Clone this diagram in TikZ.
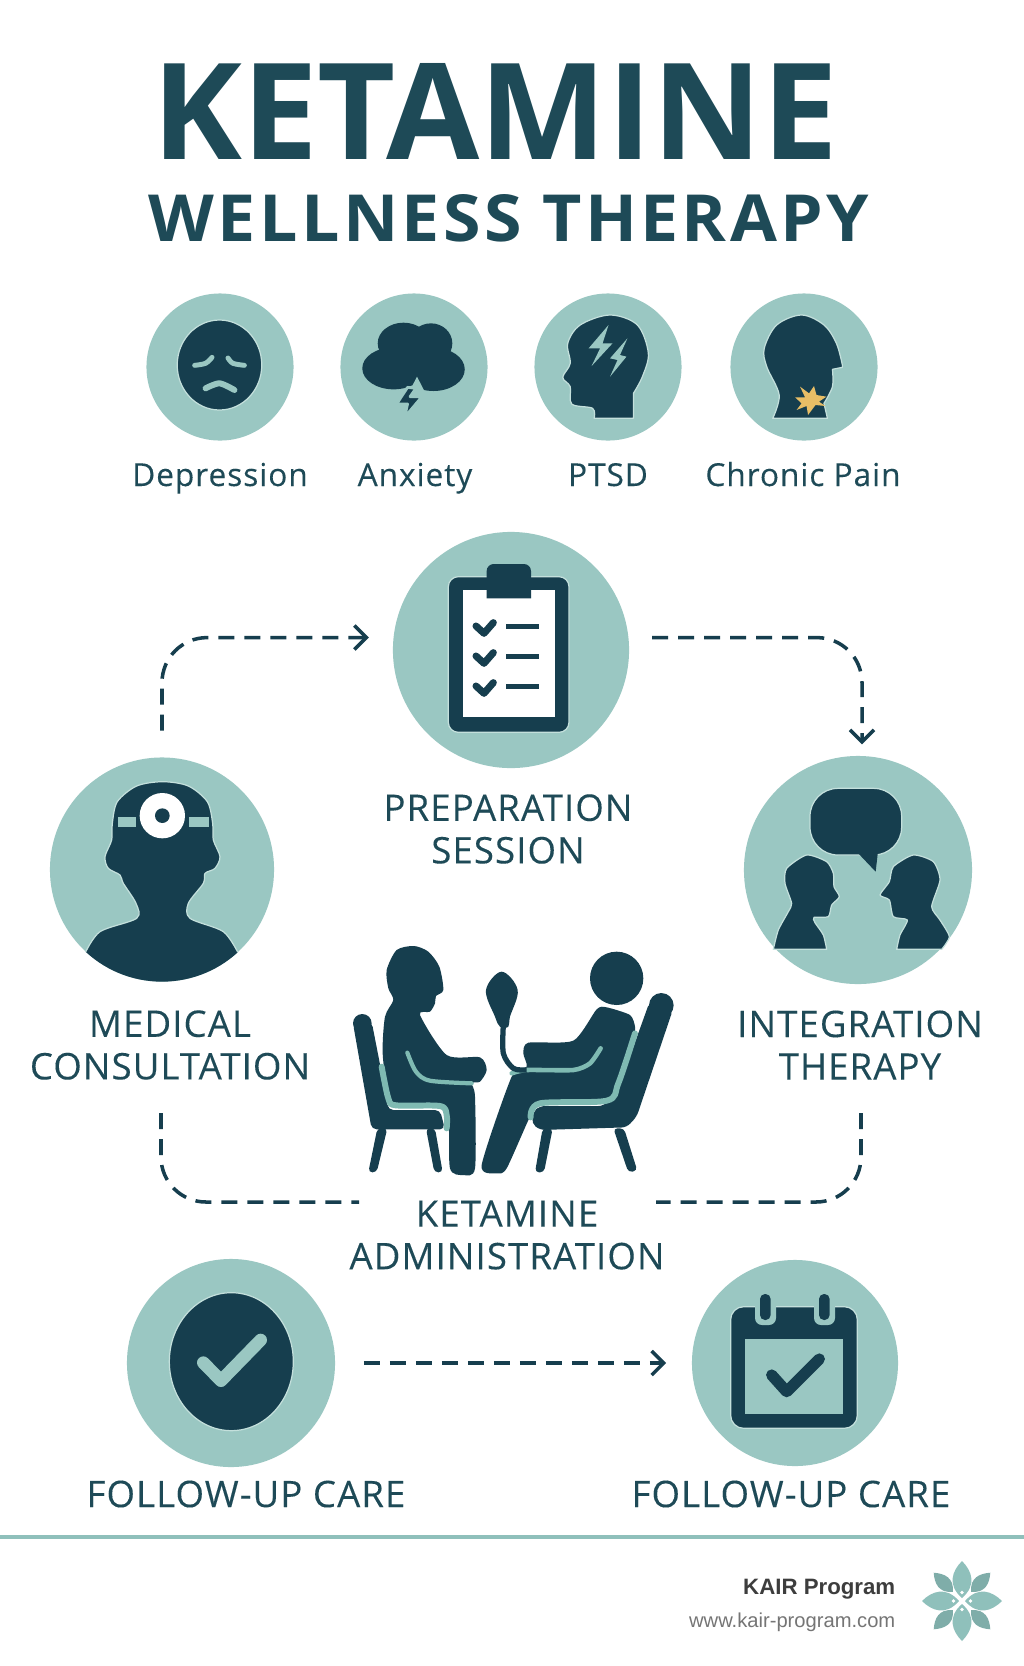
\documentclass[tikz,border=0pt]{standalone}
\usepackage{fontspec}
\usepackage{graphicx}
\setmainfont{Open Sans}
\newfontfamily\labelfont[LetterSpace=3,FakeBold=.15]{Open Sans}
\newfontfamily\sidefont{Liberation Sans}
\usetikzlibrary{arrows.meta}
\definecolor{inkdark}{HTML}{163E4E}
\definecolor{inktext}{HTML}{1E4A57}
\definecolor{discteal}{HTML}{9AC7C2}
\definecolor{haloteal}{HTML}{C4E0DC}
\definecolor{lineteal}{HTML}{7FBAB2}
\definecolor{ruleteal}{HTML}{8FC0BB}
\definecolor{leafdark}{HTML}{7FADA9}
\definecolor{sparkgold}{HTML}{E8BE66}
\tikzset{
  disc/.style={circle,fill=discteal,inner sep=0pt},
  icon/.style={fill=inkdark,draw=haloteal,line width=.35pt},
  lightstroke/.style={draw=discteal,line cap=round,line join=round},
  seam/.style={draw=lineteal,line cap=round,line join=round},
  steplabel/.style={text=inktext,align=center,inner sep=0pt,font=\labelfont\fontsize{10.4}{12.1}\selectfont},
  condlabel/.style={text=inktext,inner sep=0pt,anchor=base,font=\labelfont\fontsize{9}{11}\selectfont},
  flowplain/.style={draw=inkdark,line width=1pt,dash pattern=on 1.6mm off 1mm,rounded corners=.45cm},
  flowline/.style={flowplain,-{Straight Barb[length=1.2mm,width=2.4mm]}},
}
\begin{document}
\begin{tikzpicture}[x=.01cm,y=-.01cm,line join=round]
\useasboundingbox (0,0) rectangle (1024,1666);
\fill[white] (0,0) rectangle (1024,1666);

% title
\node[text=inktext,inner sep=0pt] (title) at (495,111) {\resizebox{6.85cm}{.96cm}{\bfseries KETAMINE}};
\node[text=inktext,inner sep=0pt] (subtitle) at (509,218.5) {\resizebox{7.2cm}{.47cm}{\bfseries W\kern.05em E\kern.05em L\kern.05em L\kern.05em N\kern.05em E\kern.05em S\kern.05em S\kern.3em T\kern.05em H\kern.05em E\kern.05em R\kern.05em A\kern.05em P\kern.05em Y}};

% conditions
\node[disc,minimum size=1.47cm] (depr) at (220,367) {};
\node[disc,minimum size=1.47cm] (anx) at (414,367) {};
\node[disc,minimum size=1.47cm] (ptsd) at (608,367) {};
\node[disc,minimum size=1.47cm] (pain) at (804,367) {};
\node[condlabel] (deprlabel) at (220,486) {Depression};
\node[condlabel] (anxlabel) at (415,486) {Anxiety};
\node[condlabel] (ptsdlabel) at (608,486) {PTSD};
\node[condlabel] (painlabel) at (803,486) {Chronic Pain};

\begin{scope}[shift={(120,280)},xscale=.4975,yscale=1/3]
\fill[icon] (200,255) ellipse (85 and 135);
\draw[lightstroke,line width=1.4pt] plot[smooth] coordinates {(150,256) (172,250) (185,232)};
\draw[lightstroke,line width=1.4pt] plot[smooth] coordinates {(217,234) (227,250) (250,256)};
\draw[lightstroke,line width=1.7pt] plot[smooth] coordinates {(172,325) (200,310) (230,330)};
% cloud
\fill[inkdark] (550,265) ellipse (63 and 63);
\fill[inkdark] (630,268) ellipse (63 and 65);
\fill[inkdark] (570,190) ellipse (52 and 62);
\fill[inkdark] (625,190) ellipse (43 and 60);
\fill[discteal] (578,345) -- (597,290) -- (616,345) -- cycle;
\filldraw[fill=inkdark,draw=discteal,line width=.8pt] (578,322) -- (556,372) -- (578,372) -- (572,412) -- (607,350) -- (583,350) -- (595,325) -- cycle;
% head with bolts
\fill[icon] plot[smooth,tension=.55] coordinates {(953,415) (950,385) (908,372) (905,320) (890,292) (905,250) (900,190) (925,135) (985,105) (1040,135) (1062,220) (1050,290) (1032,340)} -- (1032,415) -- cycle;
\fill[discteal] (982,135) -- (942,205) -- (965,205) -- (948,258) -- (990,190) -- (970,190) -- cycle;
\fill[discteal] (1020,175) -- (985,235) -- (1000,240) -- (985,290) -- (1018,230) -- (1005,225) -- cycle;
% head with neck spark
\fill[icon] plot[smooth,tension=.55] coordinates {(1312,415) (1325,345) (1300,260) (1295,205) (1320,135) (1370,105) (1415,135) (1440,190) (1452,255)} -- (1452,262) -- plot[smooth,tension=.55] coordinates {(1432,268) (1432,320) (1415,370)} -- (1422,415) -- cycle;
\fill[sparkgold] (1367,320) -- (1385,340) -- (1395,318) -- (1400,345) -- (1420,350) -- (1405,365) -- (1418,378) -- (1398,375) -- (1383,405) -- (1380,378) -- (1360,390) -- (1370,370) -- (1357,352) -- (1377,352) -- cycle;
\end{scope}

% steps
\node[disc,minimum size=2.36cm] (prep) at (511,650) {};
\node[disc,minimum size=2.24cm] (medical) at (162,869.5) {};
\node[disc,minimum size=2.28cm] (integ) at (858,870) {};
\node[disc,minimum size=2.08cm] (followa) at (231,1363) {};
\node[disc,minimum size=2.06cm] (followb) at (795,1363) {};
\node[steplabel] (preplabel) at (508,829) {PREPARATION\\SESSION};
\node[steplabel] (medlabel) at (170,1045) {MEDICAL\\CONSULTATION};
\node[steplabel] (integlabel) at (860,1045) {INTEGRATION\\THERAPY};
\node[steplabel] (ketlabel) at (507,1235) {KETAMINE\\ADMINISTRATION};
\node[steplabel] (followalabel) at (246,1494) {FOLLOW-UP CARE};
\node[steplabel] (followblabel) at (791,1494) {FOLLOW-UP CARE};

% clipboard
\begin{scope}[shift={(380,520)},scale=1/3]
\fill[icon,rounded corners=.1cm] (205,170) rectangle (567,637);
\fill[white] (250,210) rectangle (525,592);
\fill[inkdark] (320,235) [rounded corners=.07cm] -- (320,132) -- (453,132) [sharp corners] -- (453,235) -- cycle;
\foreach \rowy in {318,408,498}{
  \draw[inkdark,line width=2pt,line cap=round] (288,\rowy) -- ++(24,22) -- ++(28,-32);
  \fill[inkdark] (378,\rowy-7) rectangle (478,\rowy+8);
}
\end{scope}

% head mirror
\begin{scope}[shift={(30,740)},scale=1/3]
\clip (396,388) circle (337);
\fill[icon] plot[smooth,tension=.5] coordinates {(165,640) (210,575) (320,535) (318,490) (280,430) (270,405) (235,385) (225,350) (245,300) (247,250) (262,185) (320,138) (398,125) (475,138) (532,185) (548,250) (550,300) (570,350) (555,385) (525,400) (520,430) (475,490) (480,535) (580,575) (625,640)} -- (625,760) -- (165,760) -- cycle;
\fill[white] (397,227) circle (68);
\fill[inkdark] (397,227) circle (22);
\fill[discteal] (265,230) rectangle (317,260);
\fill[discteal] (477,230) rectangle (537,260);
\end{scope}

% talking heads
\begin{scope}[shift={(730,740)},scale=1/3]
\fill[icon,rounded corners=.28cm] (240,145) rectangle (515,345);
\fill[inkdark] (380,335) -- (437,395) -- (445,325) -- cycle;
\fill[icon] plot[smooth,tension=.4] coordinates {(130,628) (145,570) (175,515) (185,490) (165,430) (170,385) (230,345) (290,365) (310,400) (312,440) (328,470) (305,495) (295,530) (252,532) (255,548) (280,585) (290,628)} -- cycle;
\fill[icon] plot[smooth,tension=.4] coordinates {(500,628) (510,585) (532,540) (490,530) (478,480) (450,465) (478,425) (490,380) (550,345) (610,365) (630,420) (605,500) (630,540) (658,590) (635,628)} -- cycle;
\end{scope}

% seated pair
\begin{scope}[shift={(340,920)},scale=1/3]
\fill[inkdark] (67,310) circle (28);
\fill[inkdark,rounded corners=.05cm] (39,310) -- (95,305) -- (135,510) -- (145,570) -- (300,570) -- (315,628) -- (95,628) -- cycle;
\fill[inkdark,rounded corners=.04cm] (112,625) -- (142,625) -- (110,757) -- (85,757) -- cycle;
\fill[inkdark,rounded corners=.04cm] (258,625) -- (285,625) -- (308,757) -- (283,757) -- cycle;
\fill[inkdark] plot[smooth cycle,tension=.45] coordinates {(240,285) (270,275) (285,250) (288,228) (310,210) (298,140) (265,95) (222,78) (170,90) (140,150) (145,205) (160,240) (135,290) (128,400) (145,530) (170,550) (295,552) (325,585) (330,745) (370,765) (405,745) (405,530) (395,490) (420,485) (440,450) (420,412) (320,405)};
\draw[seam,line width=1.7pt] plot[smooth,tension=.5] coordinates {(125,440) (145,535) (168,556) (300,558) (320,585) (320,625)};
\draw[seam,line width=1.2pt] plot[smooth,tension=.5] coordinates {(202,398) (228,455) (270,482) (395,490)};
\fill[inkdark] (964,256) circle (37);
\fill[inkdark,rounded corners=.05cm] (929,245) -- (999,268) -- (890,590) -- (860,622) -- (600,630) -- (575,610) -- (580,575) -- (600,558) -- (790,558) -- (830,520) -- cycle;
\fill[inkdark,rounded corners=.04cm] (608,625) -- (638,625) -- (612,757) -- (585,757) -- cycle;
\fill[inkdark,rounded corners=.04cm] (820,625) -- (852,625) -- (892,752) -- (865,757) -- cycle;
\fill[inkdark] (830,175) circle (80);
\fill[inkdark] plot[smooth cycle,tension=.4] coordinates {(800,262) (870,285) (885,320) (880,350) (835,490) (800,535) (600,550) (570,590) (500,745) (470,760) (425,735) (515,470) (560,440) (550,400) (565,368) (700,362) (770,268)};
\draw[seam,line width=1.7pt] plot[smooth,tension=.5] coordinates {(885,340) (835,490) (800,542) (600,550) (572,592)};
\draw[seam,line width=1.3pt] plot[smooth,tension=.4] coordinates {(782,385) (750,430) (700,450) (560,450) (515,460)};
\fill[inkdark] plot[smooth cycle,tension=.6] coordinates {(485,155) (533,210) (510,290) (505,320) (480,320) (465,290) (438,210)};
\draw[inkdark,line width=1.5pt] plot[smooth,tension=.5] coordinates {(490,315) (490,400) (520,445) (560,450)};
\end{scope}

% check in dark disc
\begin{scope}[shift={(110,1250)},scale=1/3]
\fill[icon] (364,335) ellipse (186 and 207);
\draw[lightstroke,line width=3.6pt,line cap=round] (280,338) -- (333,392) -- (452,270);
\end{scope}

% calendar
\begin{scope}[shift={(680,1250)},scale=1/3]
\fill[icon,rounded corners=.13cm] (152,170) rectangle (532,535);
\fill[discteal,draw=inkdark,line width=.35pt] (192,265) rectangle (490,495);
\fill[discteal,rounded corners=.07cm] (225,150) rectangle (288,225);
\fill[discteal,rounded corners=.07cm] (402,150) rectangle (465,225);
\fill[inkdark,rounded corners=.05cm] (240,132) rectangle (272,210);
\fill[inkdark,rounded corners=.05cm] (417,132) rectangle (449,210);
\draw[inkdark,line width=3.2pt,line cap=round] (275,375) -- (320,425) -- (418,327);
\end{scope}

% connectors
\draw[flowline,shorten <=.26cm,shorten >=.24cm] (medical.north) |- (prep.174);
\draw[flowline,shorten <=.23cm,shorten >=.11cm] (prep.6) -| (integ.88);
\coordinate (medfoot) at (161,1113);
\coordinate (ketleft) at (359,1202);
\coordinate (integfoot) at (861,1113);
\coordinate (ketright) at (656,1202);
\draw[flowplain] (medfoot) |- (ketleft);
\draw[flowplain] (integfoot) |- (ketright);
\draw[flowline,shorten <=.28cm,shorten >=.25cm] (followa) -- (followb);

% footer
\draw[ruleteal,line width=1pt] (0,1537) -- (1024,1537);
\node[anchor=base east,inner sep=0pt,text=black!76] (brand) at (896,1594) {\resizebox{1.52cm}{!}{\sidefont\bfseries KAIR Program}};
\node[anchor=base east,inner sep=0pt,text=black!54] (site) at (896,1627) {\resizebox{2.06cm}{!}{\sidefont www.kair-program.com}};
\begin{scope}[shift={(962,1601)}]
\foreach \angle in {45,135,225,315}{
  \fill[leafdark,rotate=\angle] (0,-13) .. controls (-11,-22) and (-7,-32) .. (0,-40) .. controls (7,-32) and (11,-22) .. (0,-13) -- cycle;
}
\foreach \angle in {0,90,180,270}{
  \fill[ruleteal,rotate=\angle] (0,-3) .. controls (-15,-16) and (-10,-30) .. (0,-40) .. controls (10,-30) and (15,-16) .. (0,-3) -- cycle;
  \fill[white,rotate=\angle] (0,-8.5) circle (1.8);
}
\end{scope}
\end{tikzpicture}
\end{document}
